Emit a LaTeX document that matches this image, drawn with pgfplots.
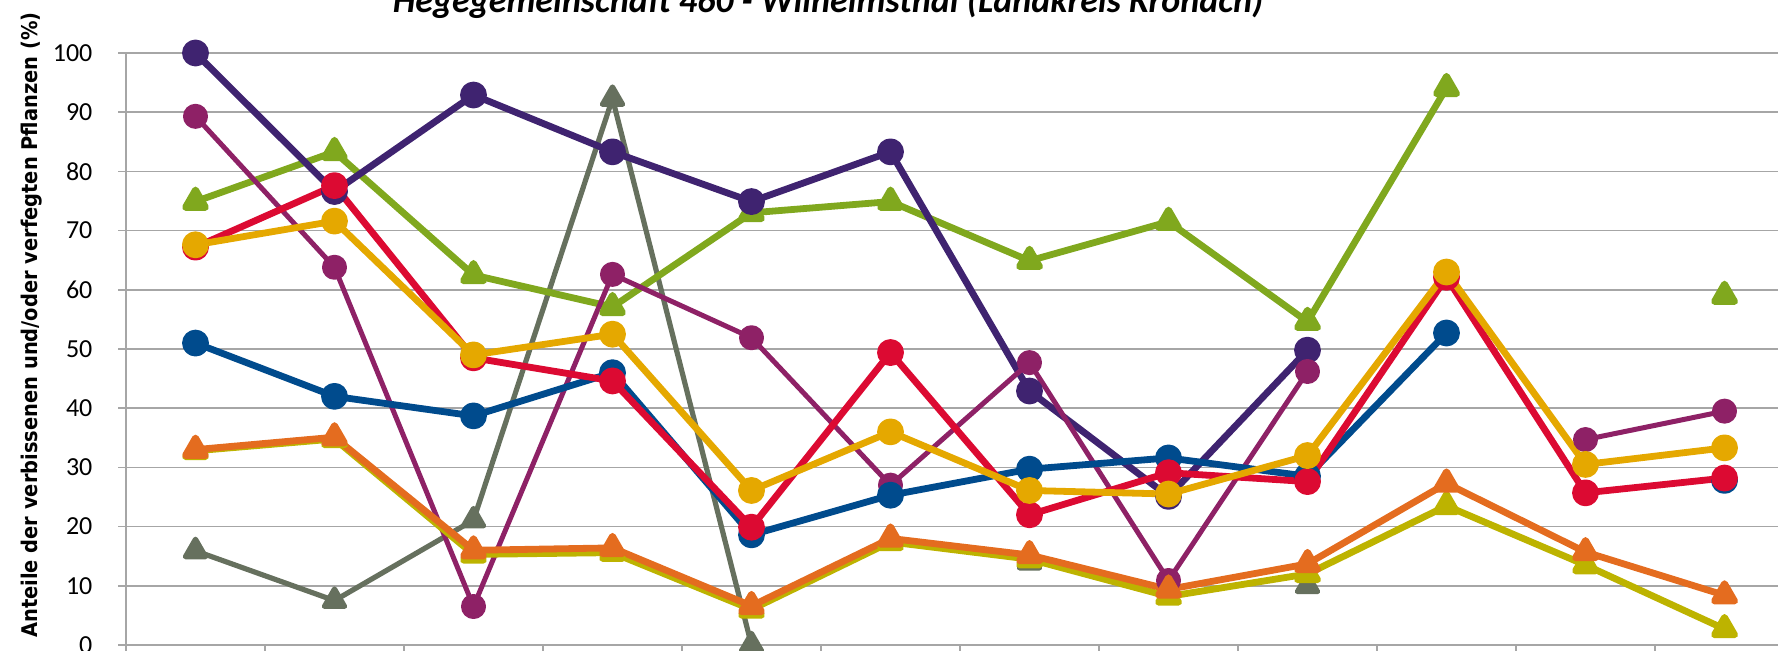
\documentclass[border=0pt]{standalone}
\usepackage{fontspec}
\setmainfont{Carlito}
\newfontfamily\labelfont{DejaVu Sans Condensed}
\usepackage{pgfplots}
\pgfplotsset{compat=1.18}
\definecolor{gridgray}{HTML}{A6A6A6}
\definecolor{cindigo}{HTML}{3F2370}
\definecolor{cmagenta}{HTML}{8E2166}
\definecolor{cred}{HTML}{DC0A32}
\definecolor{cgold}{HTML}{E5A800}
\definecolor{cblue}{HTML}{004B8D}
\definecolor{cgreen}{HTML}{80A81E}
\definecolor{cgrey}{HTML}{66705E}
\definecolor{corange}{HTML}{E46C1F}
\definecolor{cyellow}{HTML}{BDB300}
\begin{document}
\begin{tikzpicture}
\begin{axis}[
  at={(63pt,3pt)}, anchor=south west,
  scale only axis, width=834pt, height=296pt,
  xmin=0.5, xmax=12.5, ymin=0, ymax=100,
  ytick={0,10,...,100},
  xtick={0.5,1.5,...,12.5}, xticklabels={},
  axis lines*=left,
  axis line style={gridgray, line width=0.75pt},
  ymajorgrids, grid style={gridgray, line width=0.75pt},
  tick style={gridgray, line width=0.75pt},
  tick align=outside, major tick length=4pt,
  clip=false, unbounded coords=jump,
  /pgf/number format/assume math mode=true,
  yticklabel style={font=\fontsize{13}{13}\selectfont, inner sep=0pt, anchor=east, xshift=-12.6pt},
  every axis plot/.append style={line join=round},
]
% grey
\addplot[cgrey, line width=2.6pt, mark=triangle*, mark size=5.8pt, mark options={solid}] coordinates {
(1,15.9) (2,7.5) (3,21.1) (4,92.3) (5,0) (6,nan) (7,14.0) (8,nan) (9,10.0) (10,nan) (11,nan) (12,nan)};
% green
\addplot[cgreen, line width=3.4pt, mark=triangle*, mark size=5.8pt] coordinates {
(1,74.9) (2,83.3) (3,62.5) (4,57.1) (5,73.0) (6,74.9) (7,64.9) (8,71.5) (9,54.6) (10,94.1) (11,nan) (12,59.0)};
% indigo
\addplot[cindigo, line width=3.4pt, mark=*, mark size=5pt] coordinates {
(1,100) (2,76.6) (3,92.9) (4,83.3) (5,74.9) (6,83.3) (7,42.9) (8,25.1) (9,49.8) (10,nan) (11,nan) (12,nan)};
% magenta
\addplot[cmagenta, line width=2.5pt, mark=*, mark size=5pt] coordinates {
(1,89.3) (2,63.8) (3,6.5) (4,62.6) (5,51.9) (6,27.0) (7,47.7) (8,10.9) (9,46.2) (10,nan) (11,34.7) (12,39.5)};
% blue
\addplot[cblue, line width=3.4pt, mark=*, mark size=5pt] coordinates {
(1,51.0) (2,42.0) (3,38.7) (4,46.0) (5,18.6) (6,25.3) (7,29.7) (8,31.6) (9,28.5) (10,52.7) (11,nan) (12,27.8)};
% red
\addplot[cred, line width=3.4pt, mark=*, mark size=5pt] coordinates {
(1,67.2) (2,77.6) (3,48.5) (4,44.6) (5,19.9) (6,49.4) (7,22.0) (8,29.1) (9,27.6) (10,62.1) (11,25.7) (12,28.2)};
% gold
\addplot[cgold, line width=3.4pt, mark=*, mark size=5pt] coordinates {
(1,67.6) (2,71.6) (3,49.0) (4,52.5) (5,26.1) (6,36.0) (7,26.1) (8,25.5) (9,32.0) (10,63.0) (11,30.5) (12,33.3)};
% yellow
\addplot[cyellow, line width=3.4pt, mark=triangle*, mark size=5.8pt] coordinates {
(1,32.8) (2,34.8) (3,15.3) (4,15.6) (5,6.0) (6,17.4) (7,14.5) (8,8.2) (9,12.0) (10,23.5) (11,13.5) (12,2.7)};
% orange
\addplot[corange, line width=3.4pt, mark=triangle*, mark size=5.8pt] coordinates {
(1,33.0) (2,35.1) (3,16.0) (4,16.4) (5,6.6) (6,18.0) (7,15.2) (8,9.4) (9,13.7) (10,27.3) (11,15.7) (12,8.4)};
\end{axis}
\node[anchor=base, font=\bfseries\itshape\fontsize{18}{18}\selectfont] at (414pt,319pt) {Hegegemeinschaft 460 - Wilhelmsthal (Landkreis Kronach)};
\node[rotate=90, anchor=base, font=\labelfont\bfseries\fontsize{10.8}{10.8}\selectfont] at (18.5pt,163pt) {Anteile der verbissenen und/oder verfegten Pflanzen (\%)};
\pgfresetboundingbox
\useasboundingbox (0,0) rectangle (889pt,325.5pt);
\end{tikzpicture}
\end{document}
